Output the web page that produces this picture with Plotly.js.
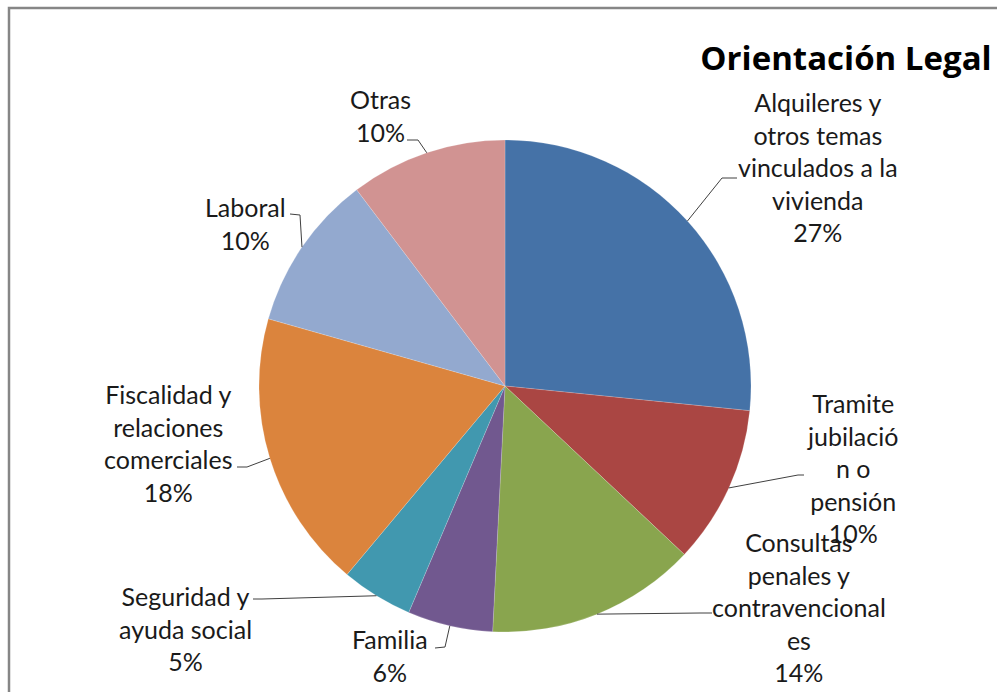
<!DOCTYPE html>
<html>
<head>
<meta charset="utf-8">
<script src="https://cdn.plot.ly/plotly-3.0.1.min.js"></script>
<style>
html,body{margin:0;padding:0;background:#fff;}
#chart{width:997px;height:692px;}
</style>
</head>
<body>
<div id="chart"></div>
<script>
// ---- data ----
const categories = [
  "Alquileres y otros temas vinculados a la vivienda",
  "Tramite jubilación o pensión",
  "Consultas penales y contravencionales",
  "Familia",
  "Seguridad y ayuda social",
  "Fiscalidad y relaciones comerciales",
  "Laboral",
  "Otras"
];
const values = [26.6, 10.4, 13.8, 5.6, 4.7, 18.3, 10.3, 10.3];
const labelLines = [
  ["Alquileres y", "otros temas", "vinculados a la", "vivienda"],
  ["Tramite", "jubilació", "n o", "pensión"],
  ["Consultas", "penales y", "contravencional", "es"],
  ["Familia"],
  ["Seguridad y", "ayuda social"],
  ["Fiscalidad y", "relaciones", "comerciales"],
  ["Laboral"],
  ["Otras"]
];
const colors = ["#4572A7", "#AA4643", "#89A54E", "#71588F", "#4198AF", "#DB843D", "#93A9CF", "#D19392"];
const chartTitle = "Orientación Legal";

// ---- layout constants (pixels) ----
const W = 997, H = 692;
const CX = 505, CY = 386, R = 246;
const labelCenters = [[818,167],[852,468],[799,607],[390,655],[185,628],[168,443],[245,223],[380,116]];
const leaderElbows = [[722,178],[798,475],[700,613],[445,647],[262,599],[247,467],[300,215],[418,140]];
const leaderEnds   = [[737,178],[804,475],[712,613],[435,648],[253,599],[237,467],[290,214],[407,140]];

const px = x => x / W;
const py = y => 1 - y / H;
const total = values.reduce((a,b)=>a+b,0);
const FONT = "Lato, 'Open Sans', sans-serif";

const annotations = [];
const shapes = [];
let cum = 0;
values.forEach((v,i)=>{
  const mid = (cum + v/2) / total * 2 * Math.PI;
  cum += v;
  const ax = CX + R*Math.sin(mid), ay = CY - R*Math.cos(mid);
  const pct = Math.round(v/total*100) + "%";
  annotations.push({
    text: labelLines[i].concat([pct]).join("<br>"),
    x: px(labelCenters[i][0]), y: py(labelCenters[i][1]),
    xref: "paper", yref: "paper", xanchor: "center", yanchor: "middle",
    align: "center", showarrow: false,
    font: {family: FONT, size: 25, color: "#1a1a1a"}
  });
  const e = leaderElbows[i], f = leaderEnds[i];
  shapes.push({
    type: "path", xref: "paper", yref: "paper",
    path: `M ${px(ax)},${py(ay)} L ${px(e[0])},${py(e[1])} L ${px(f[0])},${py(f[1])}`,
    line: {color: "#404040", width: 1}
  });
});

// chart frame (top and left edges visible)
shapes.push({
  type: "path", xref: "paper", yref: "paper",
  path: `M ${px(9)},-0.2 L ${px(9)},${py(8)} L 1.2,${py(8)}`,
  line: {color: "#868686", width: 2.5}
});

const trace = {
  type: "pie",
  labels: categories,
  values: values,
  sort: false,
  direction: "clockwise",
  rotation: 0,
  textinfo: "none",
  hoverinfo: "label+percent",
  marker: {colors: colors, line: {color: "rgba(255,255,255,0.35)", width: 0.5}},
  domain: {x: [px(CX-R), px(CX+R)], y: [py(CY+R), py(CY-R)]},
  showlegend: false
};

const layout = {
  width: W, height: H,
  margin: {l:0, r:0, t:0, b:0},
  paper_bgcolor: "#ffffff",
  showlegend: false,
  title: {
    text: "<b>" + chartTitle + "</b>",
    x: px(846), xanchor: "center", xref: "paper",
    y: py(58), yanchor: "middle", yref: "paper",
    font: {family: "'Open Sans', Lato, sans-serif", size: 33, color: "#000000"}
  },
  annotations: annotations,
  shapes: shapes
};

Plotly.newPlot("chart", [trace], layout, {displayModeBar: false, staticPlot: true});
</script>
</body>
</html>
